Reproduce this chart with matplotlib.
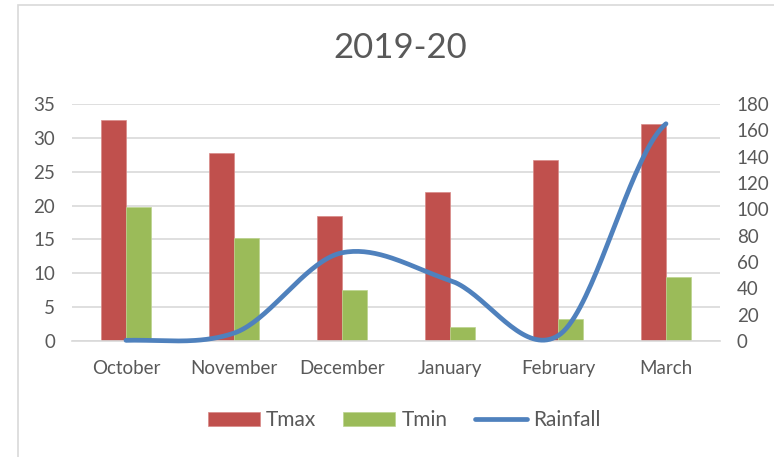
import numpy as np
import matplotlib
matplotlib.use("Agg")
import matplotlib.pyplot as plt
from matplotlib.patches import Rectangle
from matplotlib.lines import Line2D

# monthly data for the season
months = ["October", "November", "December", "January", "February", "March"]
tmax = [32.6, 27.7, 18.5, 22.0, 26.8, 32.0]
tmin = [19.8, 15.2, 7.6, 2.0, 3.2, 9.5]
rainfall = [0.5, 6, 67, 46, 4, 165]

plt.rcParams['font.family'] = ['Lato', 'DejaVu Sans']
txt = '#595959'
grid = '#d9d9d9'

fig = plt.figure(figsize=(7.74, 4.57), dpi=100)
# light chart border (top and left visible)
fig.patches.append(Rectangle((18/774, -0.1), 1.2, 1 - 5/457 + 0.1, transform=fig.transFigure,
                             fill=False, edgecolor=grid, lw=1.2))

ax = fig.add_axes([72/774, 1 - 341/457, 648/774, 237/457])
x = np.arange(len(months))
w = 0.235
ax.bar(x - w/2, tmax, w, color='#c0504d', edgecolor='#d98a88', lw=0.5, label='Tmax', zorder=2)
ax.bar(x + w/2, tmin, w, color='#9bbb59', edgecolor='#bcd48f', lw=0.5, label='Tmin', zorder=2)
ax.set_xlim(-0.5, len(months) - 0.5)
ax.set_ylim(0, 35)
ax.set_yticks(range(0, 36, 5))
ax.set_xticks(x)
ax.set_xticklabels(months)
ax.grid(axis='y', color=grid, lw=1.2, zorder=0)
ax.set_axisbelow(True)
for s in ['top', 'right', 'left']:
    ax.spines[s].set_visible(False)
ax.spines['bottom'].set_color(grid)
ax.spines['bottom'].set_linewidth(1.2)
ax.tick_params(length=0, colors=txt, labelsize=13.5)
ax.tick_params(axis='x', pad=14)
ax.tick_params(axis='y', pad=12)

# smoothed rainfall line (cardinal spline through the points, like Excel's smooth line)
ax2 = ax.twinx()
r = np.array(rainfall, dtype=float)
p = np.concatenate([[r[0]], r, [r[-1]]])
k = 0.42
xs, ys = [], []
for i in range(len(r) - 1):
    p1, p2 = p[i+1], p[i+2]
    m1 = k * (p[i+2] - p[i])
    m2 = k * (p[i+3] - p[i+1])
    t = np.linspace(0, 1, 40)
    h00 = 2*t**3 - 3*t**2 + 1
    h10 = t**3 - 2*t**2 + t
    h01 = -2*t**3 + 3*t**2
    h11 = t**3 - t**2
    xs.extend(i + t)
    ys.extend(h00*p1 + h10*m1 + h01*p2 + h11*m2)
ax2.plot(xs, ys, color='#4f81bd', lw=3.4, solid_capstyle='round', clip_on=False, zorder=3)
ax2.set_ylim(0, 180)
ax2.set_yticks(range(0, 181, 20))
for s in ['top', 'right', 'left', 'bottom']:
    ax2.spines[s].set_visible(False)
ax2.tick_params(length=0, colors=txt, labelsize=13.5, pad=12)

fig.text(0.517, 1 - 48/457, "2019-20", ha='center', va='center', fontsize=25, color=txt)

h1, l1 = ax.get_legend_handles_labels()
h1.append(Line2D([], [], color='#4f81bd', lw=3.4, solid_capstyle='round'))
l1.append('Rainfall')
fig.legend(h1, l1, loc='center', bbox_to_anchor=(0.522, 1 - 420/457), ncol=3, frameon=False,
           fontsize=15, labelcolor=txt, handlelength=2.5, handleheight=0.65, handletextpad=0.3,
           columnspacing=1.3)

fig.savefig("out.png", dpi=100)
